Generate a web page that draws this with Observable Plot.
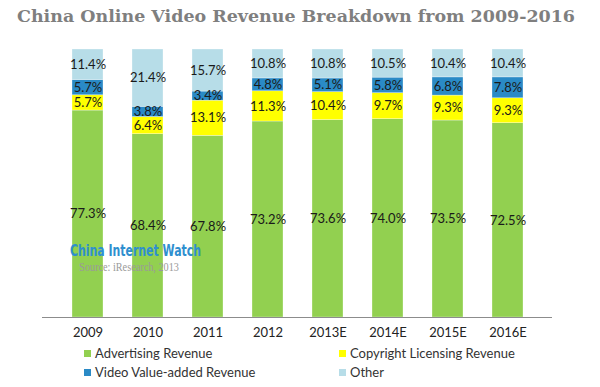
<!DOCTYPE html>
<html>
<head>
<meta charset="utf-8">
<script src="https://cdn.jsdelivr.net/npm/d3@7"></script>
<script src="https://cdn.jsdelivr.net/npm/@observablehq/plot@0.6"></script>
<style>
  html, body { margin: 0; padding: 0; background: #fff; }
  #wrap { position: relative; width: 600px; height: 387px; overflow: hidden; font-family: Lato, "Noto Sans", sans-serif; }
  #title { position: absolute; left: 0; top: 0; }
  #chart { position: absolute; left: 0; top: 40px; }
  #legend { position: absolute; left: 0; top: 343px; width: 600px; height: 44px; font-size: 13px; color: #333; }
  .item { position: absolute; display: flex; align-items: center; height: 16px; white-space: nowrap; }
  .sw { width: 7px; height: 7px; margin-right: 4px; }
  #wm { position: absolute; left: 0; top: 0; }
</style>
</head>
<body>
<div id="wrap">
  <svg id="title" width="600" height="40"></svg>
  <div id="chart"></div>
  <div id="legend"></div>
  <svg id="wm" width="600" height="387"></svg>
</div>
<script>
const titleText = "China Online Video Revenue Breakdown from 2009-2016";
const years = ["2009", "2010", "2011", "2012", "2013E", "2014E", "2015E", "2016E"];
const advertising = [77.3, 68.4, 67.8, 73.2, 73.6, 74.0, 73.5, 72.5];
const copyright = [5.7, 6.4, 13.1, 11.3, 10.4, 9.7, 9.3, 9.3];
const valueAdded = [5.7, 3.8, 3.4, 4.8, 5.1, 5.8, 6.8, 7.8];
const other = [11.4, 21.4, 15.7, 10.8, 10.8, 10.5, 10.4, 10.4];
const seriesNames = ["Advertising Revenue", "Copyright Licensing Revenue", "Video Value-added Revenue", "Other"];
const seriesColors = ["#92d050", "#ffff00", "#2a8ac6", "#b7dde8"];

const seriesValues = [advertising, copyright, valueAdded, other];
const rows = [];
seriesNames.forEach((s, i) => {
  years.forEach((y, j) => rows.push({ year: y, series: s, value: seriesValues[i][j] }));
});

// Title
d3.select("#title").append("text")
  .attr("x", 17).attr("y", 22)
  .attr("textLength", 558).attr("lengthAdjust", "spacingAndGlyphs")
  .attr("font-family", "'DejaVu Serif', serif")
  .attr("font-weight", "bold").attr("font-size", 16)
  .attr("fill", "#7f7f7f")
  .text(titleText);

const chart = Plot.plot({
  width: 600,
  height: 303,
  marginTop: 9,
  marginBottom: 26,
  marginLeft: 42,
  marginRight: 48,
  style: { fontFamily: "Lato, 'Noto Sans', sans-serif", fontSize: "13px", color: "#222", background: "transparent" },
  x: { domain: years, padding: 0.49, label: null, tickSize: 0, tickPadding: 10 },
  y: { axis: null, domain: [0, 1] },
  color: { domain: seriesNames, range: seriesColors },
  marks: [
    Plot.barY(rows, Plot.stackY({
      offset: "normalize", order: seriesNames,
      x: "year", y: "value", fill: "series", z: "series",
      stroke: "#ffffff", strokeOpacity: 0.5, strokeWidth: 0.6
    })),
    Plot.text(rows, Plot.stackY({
      offset: "normalize", order: seriesNames,
      x: "year", y: "value", z: "series",
      text: d => d.value.toFixed(1) + "%",
      fontSize: 13, fill: "#1a1a1a"
    })),
    Plot.ruleY([0], { stroke: "#8c8c8c", strokeWidth: 1 })
  ]
});
document.getElementById("chart").appendChild(chart);

// Legend
const legend = document.getElementById("legend");
const legendPos = [
  { left: 84, top: 2 }, { left: 339, top: 2 },
  { left: 84, top: 21 }, { left: 339, top: 21 }
];
seriesNames.forEach((s, i) => {
  const it = document.createElement("div");
  it.className = "item";
  it.style.left = legendPos[i].left + "px";
  it.style.top = legendPos[i].top + "px";
  const sw = document.createElement("span");
  sw.className = "sw";
  sw.style.background = seriesColors[i];
  const tx = document.createElement("span");
  tx.textContent = s;
  it.appendChild(sw);
  it.appendChild(tx);
  legend.appendChild(it);
});

// Watermark
const wm = d3.select("#wm");
wm.append("text")
  .attr("x", 70).attr("y", 256)
  .attr("textLength", 131).attr("lengthAdjust", "spacingAndGlyphs")
  .attr("font-family", "'Liberation Sans Narrow', 'DejaVu Sans Condensed', sans-serif")
  .attr("font-weight", "bold").attr("font-size", 15)
  .attr("fill", "#2f8fcf")
  .text("China Internet Watch");
wm.append("text")
  .attr("x", 79).attr("y", 271)
  .attr("textLength", 100).attr("lengthAdjust", "spacingAndGlyphs")
  .attr("font-family", "'Liberation Serif', serif")
  .attr("font-size", 12)
  .attr("fill", "#9a9a9a")
  .text("Source: iResearch, 2013");
</script>
</body>
</html>
